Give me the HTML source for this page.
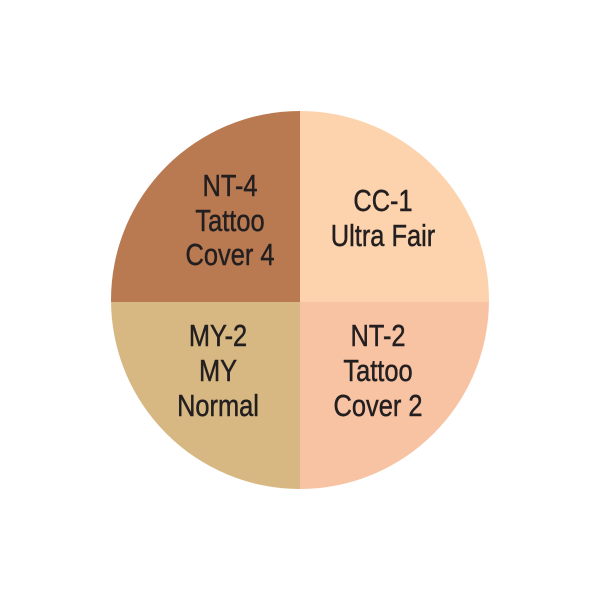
<!DOCTYPE html>
<html><head><style>html,body{margin:0;padding:0;background:#fff;width:600px;height:600px;overflow:hidden}</style></head>
<body>
<svg width="600" height="600" viewBox="0 0 600 600" xmlns="http://www.w3.org/2000/svg">
<defs><clipPath id="c"><circle cx="300" cy="300" r="189"/></clipPath></defs>
<g clip-path="url(#c)">
<rect x="100" y="100" width="200" height="202" fill="#b97a52"/>
<rect x="300" y="100" width="200" height="202" fill="#fdd3ad"/>
<rect x="100" y="302" width="200" height="200" fill="#d8b882"/>
<rect x="300" y="302" width="200" height="200" fill="#f8c3a3"/>
</g>
<g font-family="'Liberation Sans',sans-serif" font-size="31" fill="#231f20" stroke="#231f20" stroke-width="0.5" text-anchor="middle">
<g transform="translate(230 0) scale(0.82 1)">
<text x="0" y="196">NT-4</text>
<text x="0" y="231">Tattoo</text>
<text x="0" y="265">Cover 4</text>
</g>
<g transform="translate(383 0) scale(0.82 1)">
<text x="0" y="211">CC-1</text>
<text x="0" y="246">Ultra Fair</text>
</g>
<g transform="translate(218 0) scale(0.82 1)">
<text x="0" y="346">MY-2</text>
<text x="0" y="381">MY</text>
<text x="0" y="416">Normal</text>
</g>
<g transform="translate(378 0) scale(0.82 1)">
<text x="0" y="346">NT-2</text>
<text x="0" y="381">Tattoo</text>
<text x="0" y="416">Cover 2</text>
</g>
</g>
</svg>
</body></html>
